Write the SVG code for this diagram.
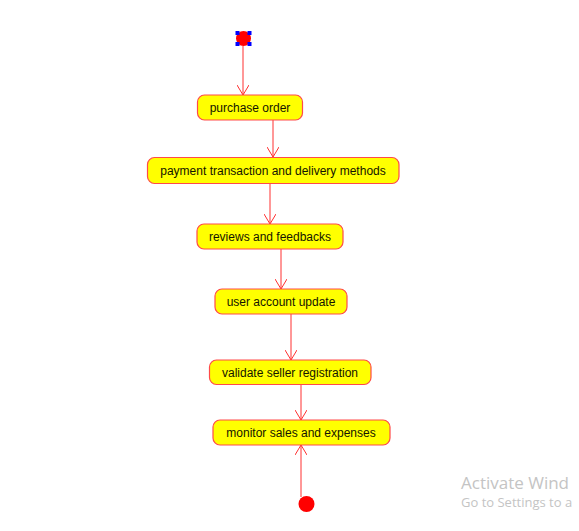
<svg xmlns="http://www.w3.org/2000/svg" width="579" height="531" viewBox="0 0 579 531">
<defs>
<style>
.node rect{fill:#ffff00;stroke:#ff4a4a;stroke-width:1.2}
.node text{font-family:"Liberation Sans",Arial,sans-serif;font-size:12px;fill:#141400;text-anchor:middle}
.edge{stroke:#ff3030;stroke-width:1;fill:none}
.wm{font-family:"Open Sans","Noto Sans",sans-serif;fill:#c4c4c4}
</style>
<marker id="arr" viewBox="0 0 12 12" refX="11" refY="6" markerWidth="12" markerHeight="12" markerUnits="userSpaceOnUse" orient="auto">
<path d="M1,0 L11,6 L1,12" fill="none" stroke="#ff3030" stroke-width="1"/>
</marker>
</defs>
<rect width="579" height="531" fill="#ffffff"/>
<g id="connectors">
<line class="edge" x1="243" y1="46" x2="243" y2="95" stroke="#ff7070" marker-end="url(#arr)"/>
<line class="edge" x1="273" y1="120" x2="273" y2="157" marker-end="url(#arr)"/>
<line class="edge" x1="270" y1="183" x2="270" y2="224" marker-end="url(#arr)"/>
<line class="edge" x1="281" y1="249" x2="281" y2="289" marker-end="url(#arr)"/>
<line class="edge" x1="291" y1="314" x2="291" y2="360" marker-end="url(#arr)"/>
<line class="edge" x1="301" y1="384" x2="301" y2="420" marker-end="url(#arr)"/>
<line class="edge" x1="301" y1="497" x2="301" y2="445" marker-end="url(#arr)"/>
</g>
<g id="start">
<circle cx="243.5" cy="38.5" r="7.5" fill="#ff0000"/>
<rect x="235.5" y="31" width="4" height="4" fill="#0000ff"/>
<rect x="247.5" y="31" width="4" height="4" fill="#0000ff"/>
<rect x="235.5" y="42" width="4" height="4" fill="#0000ff"/>
<rect x="247.5" y="42" width="4" height="4" fill="#0000ff"/>
</g>
<g id="n1" class="node"><rect x="197.5" y="95" width="105" height="25" rx="7"/><text x="250" y="112">purchase order</text></g>
<g id="n2" class="node"><rect x="147.5" y="157.5" width="251.5" height="26" rx="7"/><text x="273" y="175">payment transaction and delivery methods</text></g>
<g id="n3" class="node"><rect x="197" y="224" width="146" height="25" rx="7"/><text x="270" y="241">reviews and feedbacks</text></g>
<g id="n4" class="node"><rect x="215" y="289" width="132" height="25" rx="7"/><text x="281" y="306">user account update</text></g>
<g id="n5" class="node"><rect x="209.5" y="360" width="161.5" height="24.5" rx="7"/><text x="290" y="377">validate seller registration</text></g>
<g id="n6" class="node"><rect x="213" y="420" width="177" height="25" rx="7"/><text x="301" y="437">monitor sales and expenses</text></g>
<g id="end"><circle cx="306.5" cy="504" r="8" fill="#ff0000"/></g>
<text class="wm" x="461" y="489" font-size="17">Activate Wind</text>
<text class="wm" x="461" y="507" font-size="13">Go to Settings to a</text>
</svg>
